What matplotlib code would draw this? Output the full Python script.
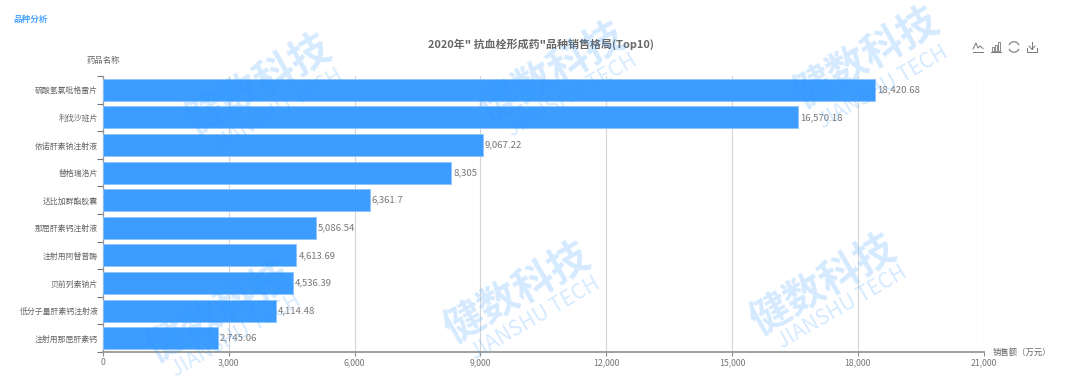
import matplotlib
matplotlib.use("Agg")
import matplotlib.pyplot as plt
from matplotlib.lines import Line2D
from matplotlib.patches import Arc, Rectangle

plt.rcParams['font.family'] = ['Noto Sans CJK SC', 'DejaVu Sans']

drugs = ['硫酸氢氯吡格雷片', '利伐沙班片', '依诺肝素钠注射液', '替格瑞洛片', '达比加群酯胶囊',
         '那屈肝素钙注射液', '注射用阿替普酶', '贝前列素钠片', '低分子量肝素钙注射液', '注射用那屈肝素钙']
sales = [18420.68, 16570.18, 9067.22, 8305, 6361.7, 5086.54, 4613.69, 4536.39, 4114.48, 2745.06]
xticks = [0, 3000, 6000, 9000, 12000, 15000, 18000, 21000]

W, H = 1080, 384
BLUE = '#3D9DFF'
GREY = '#777777'
fig = plt.figure(figsize=(W / 100, H / 100), dpi=100, facecolor='white')
L, R, T, B = 103, 983.5, 76, 352
ax = fig.add_axes([L / W, 1 - B / H, (R - L) / W, (B - T) / H])


def px(x, y):
    return x / W, 1 - y / H


ypos = list(range(len(drugs)))
ax.barh(ypos, sales, height=0.8, color=BLUE, edgecolor='#8CC4FF', linewidth=0.6, zorder=3)
ax.set_xlim(0, 21000)
ax.set_ylim(len(drugs) - 0.5, -0.5)
ax.set_xticks(xticks)
ax.set_xticklabels([f'{v:,}' for v in xticks], fontsize=6.3, color=GREY)
ax.set_yticks([i - 0.5 for i in range(len(drugs) + 1)])
ax.set_yticklabels([])
ax.set_yticks(ypos, minor=True)
ax.set_yticklabels(drugs, minor=True, fontsize=5.7, color='#666666')
ax.tick_params(axis='y', which='minor', length=0, pad=3.5)
ax.tick_params(axis='y', which='major', length=4, width=0.8, color='#777777')
ax.tick_params(axis='x', length=3, width=0.8, color='#888888', pad=1.5)
ax.grid(axis='x', color='#D5D5D5', linewidth=0.8, zorder=0)
ax.set_axisbelow(True)
for s in ('top', 'right'):
    ax.spines[s].set_visible(False)
ax.spines['left'].set_color('#999999')
ax.spines['left'].set_linewidth(0.9)
ax.spines['bottom'].set_color('#999999')
ax.spines['bottom'].set_linewidth(1.3)

for i, v in enumerate(sales):
    ax.annotate(f'{v:,}', (v, i), xytext=(1.4, 0), textcoords='offset points',
                va='center', ha='left', fontsize=6.9, color=GREY, zorder=6)

fig.text(*px(13, 19), '品种分析', fontsize=6.2, color='#4DA6FF', fontweight='bold', va='center', ha='left')
fig.text(*px(541, 44), '2020年" 抗血栓形成药"品种销售格局(Top10)', fontsize=7.9, color='#666666',
         fontweight='bold', va='center', ha='center')
fig.text(*px(103, 61), '药品名称', fontsize=6.0, color='#666666', va='center', ha='center')
fig.text(*px(993, 352), '销售额（万元）', fontsize=6.0, color='#666666', va='center', ha='left')

# watermarks: brand name centre, then latin line centre
marks = [((258, 85), (278, 110)), ((552, 73), (572, 95)), ((866, 58), (883, 87)),
         ((219, 312), (236, 335)), ((517, 293), (535, 318)), ((823, 285), (842, 307))]
for (x, y), (x2, y2) in marks:
    fig.text(*px(x, y), '健数科技', fontsize=29, fontweight='bold', color='#2E96FF', alpha=0.2,
             rotation=30, ha='center', va='center', rotation_mode='anchor', zorder=10)
    fig.text(*px(x2, y2), 'JIANSHU TECH', fontsize=15, color='#2E96FF', alpha=0.2,
             rotation=30, ha='center', va='center', rotation_mode='anchor', zorder=10)

# toolbox icons
ic = '#777777'


def line(xs, ys):
    pts = [px(x, y) for x, y in zip(xs, ys)]
    fig.add_artist(Line2D([p[0] for p in pts], [p[1] for p in pts], color=ic, lw=0.7,
                          transform=fig.transFigure))


line([973, 983], [52, 52])
line([973, 976, 978, 980, 983], [49, 43, 48, 46, 48.5])
line([991, 1001], [52, 52])
for x, top in [(992, 47), (995, 45), (998, 42)]:
    fig.add_artist(Rectangle(px(x, 51), 2.2 / W, (51 - top) / H, fill=False, ec=ic, lw=0.6,
                             transform=fig.transFigure))
for start, end in [(20, 160), (200, 340)]:
    a = Arc((1014, H - 47), 10.5, 10.5, theta1=start, theta2=end, color=ic, lw=0.8,
            transform=None)
    fig.add_artist(a)
line([1032, 1032], [42, 49])
line([1029, 1032, 1035], [46, 49.5, 46])
line([1027, 1027, 1037, 1037], [48, 52, 52, 48])

fig.savefig('out.png', dpi=100, facecolor='white')
